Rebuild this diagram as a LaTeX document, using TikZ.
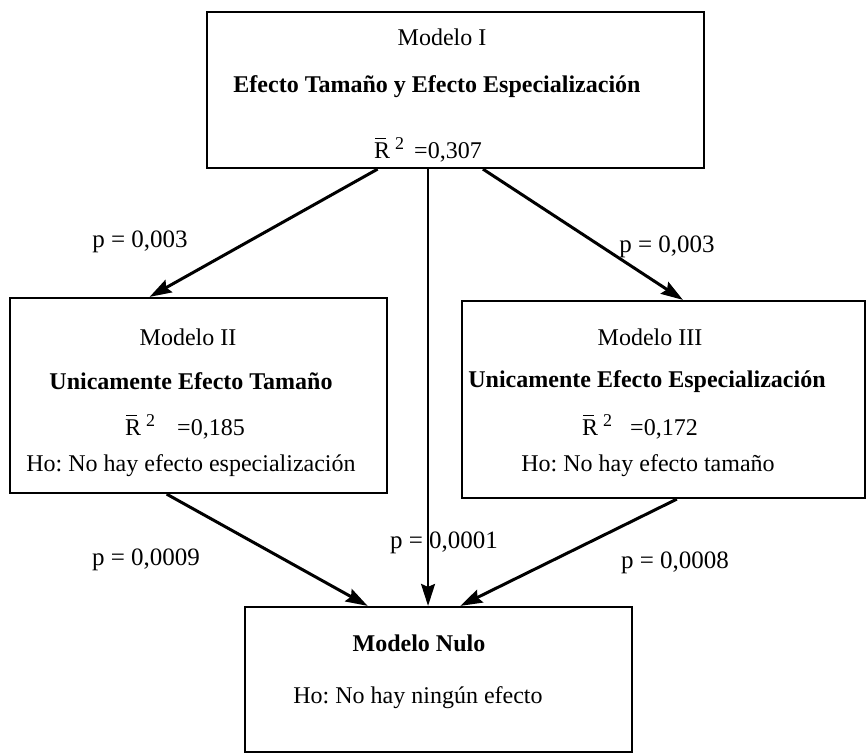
\documentclass[tikz,border=0pt]{standalone}
\usepackage{fontspec}
\setmainfont{Liberation Serif}
\usetikzlibrary{arrows.meta, calc}
\frenchspacing

\tikzset{
  modbox/.style={draw, line width=1.1pt, inner sep=0pt},
  modtxt/.style={font=\fontsize{12}{14}\selectfont, inner sep=0pt},
  modtit/.style={font=\fontsize{12}{14}\selectfont\bfseries, inner sep=0pt},
  ptxt/.style={font=\fontsize{12.5}{15}\selectfont, inner sep=1pt},
  flecha/.style={line width=1.5pt, -{Stealth[length=11pt, width=7pt, inset=1.5pt]}},
}
% R con barra y cuadrado
\newcommand{\rbarra}{\makebox[0pt][l]{\hspace{0.6pt}\raisebox{9.6pt}{\rule{5.4pt}{0.5pt}}}R\hspace{2.5pt}\raisebox{0.75ex}{\fontsize{9}{9}\selectfont 2}}

\begin{document}
\begin{tikzpicture}[x=0.5pt, y=-0.5pt]
  \useasboundingbox (0,0) rectangle (868,753);

  % cajas de los modelos
  \node[modbox, minimum width=248.5pt, minimum height=78pt] (modI) at (455.5,90) {};
  \node[modbox, minimum width=188.5pt, minimum height=97.5pt] (modII) at (198.5,395.5) {};
  \node[modbox, minimum width=201.5pt, minimum height=98.5pt] (modIII) at (663.5,399.5) {};
  \node[modbox, minimum width=193.5pt, minimum height=72.5pt] (modNulo) at (438.5,679.5) {};

  % textos
  \node[modtxt] (modI-a) at (442,37) {Modelo I};
  \node[modtit] (modI-b) at (437,87) {Efecto Tamaño y Efecto Especialización};
  \node[modtxt] (modI-c) at (428,150) {\rbarra\hspace{5pt}=0,307};

  \node[modtxt] (modII-a) at (188,337) {Modelo II};
  \node[modtit] (modII-b) at (191,381) {Unicamente Efecto Tamaño};
  \node[modtxt] (modII-c) at (185,427) {\rbarra\hspace{11pt}=0,185};
  \node[modtxt] (modII-d) at (191,466) {Ho: No hay efecto especialización};

  \node[modtxt] (modIII-a) at (650,337) {Modelo III};
  \node[modtit] (modIII-b) at (647,382) {Unicamente Efecto Especialización};
  \node[modtxt] (modIII-c) at (640,427) {\rbarra\hspace{9pt}=0,172};
  \node[modtxt] (modIII-d) at (648,466) {Ho: No hay efecto tamaño};

  \node[modtit] (modNulo-a) at (419,643) {Modelo Nulo};
  \node[modtxt] (modNulo-b) at (418,698) {Ho: No hay ningún efecto};

  % puntos de salida y llegada
  \coordinate (sI-II) at ($(modI.south west)!0.344!(modI.south east)$);
  \coordinate (sI-N) at ($(modI.south west)!0.445!(modI.south east)$);
  \coordinate (sI-III) at ($(modI.south west)!0.555!(modI.south east)$);
  \coordinate (lII) at ($(modII.north west)!0.371!(modII.north east)$);
  \coordinate (lIII) at ($(modIII.north west)!0.548!(modIII.north east)$);
  \coordinate (sII) at ($(modII.south west)!0.416!(modII.south east)$);
  \coordinate (sIII) at ($(modIII.south west)!0.533!(modIII.south east)$);
  \coordinate (lN-II) at ($(modNulo.north west)!0.318!(modNulo.north east)$);
  \coordinate (lN-III) at ($(modNulo.north west)!0.556!(modNulo.north east)$);

  % flechas
  \draw[flecha] (sI-II) -- (lII);
  \draw[flecha] (sI-III) -- (lIII);
  \draw[flecha, line width=1pt] (sI-N) -- (sI-N |- modNulo.north);
  \draw[flecha] (sII) -- (lN-II);
  \draw[flecha] (sIII) -- (lN-III);

  % valores p
  \node[ptxt] (p1) at (140,242) {p = 0,003};
  \node[ptxt] (p2) at (667,247) {p = 0,003};
  \node[ptxt] (p3) at (146,560) {p = 0,0009};
  \node[ptxt] (p4) at (444,543) {p = 0,0001};
  \node[ptxt] (p5) at (675,563) {p = 0,0008};
\end{tikzpicture}
\end{document}
